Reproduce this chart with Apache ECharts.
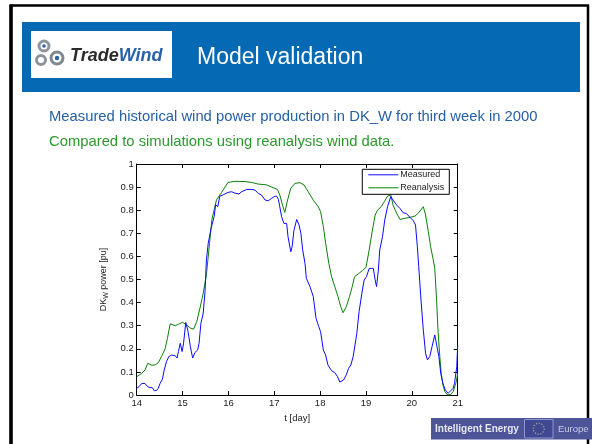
<!DOCTYPE html>
<html>
<head>
<meta charset="utf-8">
<script src="https://cdn.jsdelivr.net/npm/echarts@6/dist/echarts.min.js"></script>
<style>
  html, body { margin: 0; padding: 0; background: #fff; }
  #chart { width: 592px; height: 444px; }
</style>
</head>
<body>
<div id="chart"></div>
<script>
// Week 3 of 2000, western Denmark (DK_W): measured wind power vs. reanalysis-based simulation
const seriesNames = ['Measured', 'Reanalysis'];

const measuredT = [14.00, 14.05, 14.11, 14.18, 14.24, 14.29, 14.34, 14.38, 14.43, 14.47,
  14.51, 14.56, 14.60, 14.65, 14.70, 14.76, 14.84, 14.88, 14.91, 14.95,
  14.99, 15.02, 15.07, 15.12, 15.17, 15.22, 15.27, 15.33, 15.36, 15.40,
  15.45, 15.49, 15.52, 15.56, 15.62, 15.66, 15.69, 15.72, 15.77, 15.81,
  15.89, 15.99, 16.07, 16.14, 16.17, 16.23, 16.28, 16.40, 16.51, 16.58,
  16.65, 16.72, 16.80, 16.87, 16.94, 17.00, 17.05, 17.09, 17.12, 17.16,
  17.21, 17.27, 17.30, 17.36, 17.39, 17.43, 17.49, 17.54, 17.58, 17.62,
  17.67, 17.70, 17.78, 17.85, 17.91, 17.97, 18.01, 18.07, 18.12, 18.17,
  18.25, 18.32, 18.38, 18.43, 18.46, 18.51, 18.57, 18.62, 18.67, 18.72,
  18.80, 18.85, 18.91, 18.96, 19.01, 19.07, 19.11, 19.16, 19.20, 19.23,
  19.27, 19.30, 19.36, 19.41, 19.47, 19.54, 19.59, 19.67, 19.74, 19.81,
  19.88, 19.96, 20.03, 20.08, 20.12, 20.15, 20.20, 20.25, 20.30, 20.34,
  20.39, 20.44, 20.50, 20.54, 20.59, 20.63, 20.68, 20.73, 20.79, 20.85,
  20.90, 20.93, 20.98, 21.00];
const measuredP = [0.029, 0.036, 0.050, 0.050, 0.036, 0.032, 0.032, 0.019, 0.019, 0.029,
  0.050, 0.068, 0.108, 0.145, 0.166, 0.173, 0.170, 0.160, 0.188, 0.224,
  0.188, 0.221, 0.314, 0.275, 0.210, 0.160, 0.184, 0.195, 0.224, 0.310,
  0.354, 0.448, 0.585, 0.657, 0.720, 0.720, 0.773, 0.823, 0.816, 0.860,
  0.867, 0.877, 0.880, 0.874, 0.880, 0.870, 0.879, 0.890, 0.890, 0.887,
  0.873, 0.866, 0.844, 0.841, 0.851, 0.859, 0.861, 0.847, 0.815, 0.772,
  0.743, 0.743, 0.685, 0.620, 0.642, 0.714, 0.760, 0.736, 0.700, 0.628,
  0.570, 0.505, 0.469, 0.426, 0.332, 0.296, 0.274, 0.195, 0.173, 0.130,
  0.105, 0.097, 0.079, 0.056, 0.053, 0.065, 0.087, 0.115, 0.130, 0.166,
  0.267, 0.361, 0.440, 0.498, 0.512, 0.548, 0.553, 0.548, 0.498, 0.469,
  0.541, 0.628, 0.685, 0.758, 0.815, 0.859, 0.844, 0.822, 0.808, 0.789,
  0.786, 0.769, 0.755, 0.736, 0.642, 0.556, 0.411, 0.281, 0.180, 0.152,
  0.166, 0.209, 0.260, 0.253, 0.166, 0.094, 0.048, 0.022, 0.007, 0.019,
  0.029, 0.050, 0.123, 0.215];

const reanalysisT = [14.00, 14.11, 14.18, 14.24, 14.33, 14.40, 14.47, 14.54, 14.62, 14.67,
  14.73, 14.84, 14.91, 15.00, 15.09, 15.17, 15.24, 15.31, 15.38, 15.45,
  15.52, 15.59, 15.64, 15.74, 15.85, 15.99, 16.14, 16.36, 16.51, 16.65,
  16.83, 16.94, 17.01, 17.07, 17.12, 17.18, 17.23, 17.29, 17.36, 17.45,
  17.56, 17.65, 17.74, 17.85, 17.96, 18.01, 18.07, 18.12, 18.19, 18.25,
  18.32, 18.39, 18.45, 18.50, 18.57, 18.64, 18.70, 18.75, 18.83, 18.92,
  19.00, 19.07, 19.14, 19.20, 19.25, 19.33, 19.40, 19.47, 19.54, 19.59,
  19.67, 19.74, 19.85, 19.96, 20.07, 20.15, 20.25, 20.30, 20.36, 20.41,
  20.46, 20.50, 20.54, 20.57, 20.61, 20.64, 20.68, 20.72, 20.78, 20.85,
  20.90, 20.97, 21.00];
const reanalysisP = [0.079, 0.094, 0.108, 0.137, 0.129, 0.130, 0.140, 0.166, 0.200, 0.245,
  0.308, 0.300, 0.306, 0.315, 0.303, 0.290, 0.285, 0.318, 0.376, 0.440,
  0.520, 0.660, 0.760, 0.845, 0.877, 0.920, 0.925, 0.924, 0.920, 0.913,
  0.910, 0.900, 0.895, 0.890, 0.866, 0.822, 0.790, 0.844, 0.895, 0.916,
  0.919, 0.909, 0.880, 0.844, 0.815, 0.794, 0.729, 0.657, 0.570, 0.512,
  0.469, 0.426, 0.382, 0.356, 0.382, 0.426, 0.469, 0.512, 0.524, 0.538,
  0.553, 0.628, 0.714, 0.779, 0.800, 0.815, 0.837, 0.861, 0.866, 0.822,
  0.786, 0.760, 0.765, 0.769, 0.775, 0.789, 0.815, 0.779, 0.707, 0.642,
  0.592, 0.548, 0.411, 0.281, 0.166, 0.094, 0.043, 0.014, 0.000, 0.003,
  0.014, 0.058, 0.094];

const dayRange = [14, 21];
const powerRange = [0, 1];

const FONT = '"Liberation Sans", Arial, Helvetica, sans-serif';
const pairs = (t, p) => t.map((x, i) => [x, p[i]]);

const axisLine = { show: true, onZero: false, lineStyle: { color: '#000', width: 1 } };
const axisTick = { show: true, inside: true, length: 4, lineStyle: { color: '#000', width: 1 } };
const tickLabel = { fontSize: 9.5, color: '#222', fontFamily: FONT };

const chart = echarts.init(document.getElementById('chart'), null, { renderer: 'canvas' });

chart.setOption({
  backgroundColor: '#fff',
  animation: false,
  grid: { left: 136.7, right: 134.3, top: 164, bottom: 49, containLabel: false },
  xAxis: [
    {
      type: 'value', min: dayRange[0], max: dayRange[1], interval: 1, position: 'bottom',
      axisLine, axisTick, splitLine: { show: false },
      axisLabel: Object.assign({ margin: 3 }, tickLabel),
      name: 't [day]', nameLocation: 'middle', nameGap: 14,
      nameTextStyle: { fontSize: 9.5, color: '#222', fontFamily: FONT }
    },
    {
      type: 'value', min: dayRange[0], max: dayRange[1], interval: 1, position: 'top',
      axisLine, axisTick, splitLine: { show: false }, axisLabel: { show: false }
    }
  ],
  yAxis: [
    {
      type: 'value', min: powerRange[0], max: powerRange[1], interval: 0.1, position: 'left',
      axisLine, axisTick, splitLine: { show: false },
      axisLabel: Object.assign({ margin: 3 }, tickLabel),
      name: '{m|DK}{s|W}{m| power [pu]}', nameLocation: 'middle', nameRotate: 90, nameGap: 21,
      nameTextStyle: {
        color: '#222', fontFamily: FONT,
        rich: {
          m: { fontSize: 9, color: '#222', fontFamily: FONT },
          s: { fontSize: 7, color: '#222', fontFamily: FONT, verticalAlign: 'bottom', padding: [5, 0, 0, 0] }
        }
      }
    },
    {
      type: 'value', min: powerRange[0], max: powerRange[1], interval: 0.1, position: 'right',
      axisLine, axisTick, splitLine: { show: false }, axisLabel: { show: false }
    }
  ],
  legend: {
    data: seriesNames,
    orient: 'vertical',
    right: 142.7, top: 169.3,
    backgroundColor: '#fff', borderColor: '#000', borderWidth: 1, borderRadius: 0,
    padding: [1, 5, 2, 6], itemGap: 4, itemWidth: 30, itemHeight: 10,
    icon: 'path://M0,0H30V1H0Z',
    textStyle: { fontSize: 9, color: '#222', fontFamily: FONT, padding: [0, 0, 0, -3] }
  },
  series: [
    {
      name: seriesNames[0], type: 'line', xAxisIndex: 0, yAxisIndex: 0,
      data: pairs(measuredT, measuredP),
      symbol: 'none', smooth: false, color: '#0a0aff',
      lineStyle: { width: 1, color: '#0a0aff' }, z: 3
    },
    {
      name: seriesNames[1], type: 'line', xAxisIndex: 0, yAxisIndex: 0,
      data: pairs(reanalysisT, reanalysisP),
      symbol: 'none', smooth: false, color: '#0a7f0a',
      lineStyle: { width: 1, color: '#0a7f0a' }, z: 2
    }
  ],
  graphic: [
    // slide frame
    { type: 'rect', shape: { x: 11, y: 5.5, width: 577, height: 520 },
      style: { fill: 'none', stroke: '#000', lineWidth: 2.5 }, silent: true },
    { type: 'line', shape: { x1: 11, y1: 4.5, x2: 11, y2: 444 },
      style: { stroke: '#000', lineWidth: 3.5 }, silent: true },
    // title bar
    { type: 'rect', shape: { x: 22, y: 22, width: 558, height: 70 },
      style: { fill: '#0569b4' }, silent: true },
    { type: 'rect', shape: { x: 31, y: 31, width: 141, height: 47 },
      style: { fill: '#fff' }, silent: true },
    // TradeWind mark
    { type: 'circle', shape: { cx: 44, cy: 46, r: 5 },
      style: { fill: 'none', stroke: '#8d949c', lineWidth: 3 }, silent: true },
    { type: 'circle', shape: { cx: 41, cy: 60, r: 4.5 },
      style: { fill: 'none', stroke: '#8d949c', lineWidth: 3 }, silent: true },
    { type: 'circle', shape: { cx: 57, cy: 58, r: 6 },
      style: { fill: 'none', stroke: '#7f8891', lineWidth: 3 }, silent: true },
    { type: 'circle', shape: { cx: 57, cy: 58, r: 2.2 },
      style: { fill: '#2c63a8' }, silent: true },
    { type: 'circle', shape: { cx: 44, cy: 46, r: 1.8 },
      style: { fill: '#2c63a8' }, silent: true },
    { type: 'text', x: 70, y: 56,
      style: {
        text: '{a|Trade}{b|Wind}', verticalAlign: 'middle',
        rich: {
          a: { fontSize: 18, fontWeight: 'bold', fontStyle: 'italic', fill: '#2b2b2b', fontFamily: FONT },
          b: { fontSize: 18, fontWeight: 'bold', fontStyle: 'italic', fill: '#2a62aa', fontFamily: FONT }
        }
      }, silent: true },
    { type: 'text', x: 197, y: 58,
      style: { text: 'Model validation', fill: '#fff', fontSize: 23, fontFamily: FONT, verticalAlign: 'middle' },
      silent: true },
    // subtitle lines
    { type: 'text', x: 49, y: 117,
      style: { text: 'Measured historical wind power production in DK_W for third week in 2000',
        fill: '#2361a8', fontSize: 14.8, fontFamily: FONT, verticalAlign: 'middle' }, silent: true },
    { type: 'text', x: 49, y: 142,
      style: { text: 'Compared to simulations using reanalysis wind data.',
        fill: '#2b9a2b', fontSize: 14.8, fontFamily: FONT, verticalAlign: 'middle' }, silent: true },
    // programme badge
    { type: 'rect', shape: { x: 431, y: 418, width: 161, height: 21.5 },
      style: { fill: '#4d5497' }, silent: true },
    { type: 'text', x: 435, y: 429,
      style: { text: 'Intelligent Energy', fill: '#e6e7f2', fontSize: 10, fontWeight: 'bold',
        fontFamily: FONT, verticalAlign: 'middle' }, silent: true },
    { type: 'rect', shape: { x: 524.5, y: 419.5, width: 28.5, height: 18.5 },
      style: { fill: '#3f4891', stroke: '#8f96cc', lineWidth: 1 }, silent: true },
    { type: 'circle', shape: { cx: 538.7, cy: 428.7, r: 5.5 },
      style: { fill: 'none', stroke: '#a9a98a', lineWidth: 1.2, lineDash: [1.2, 1.6] }, silent: true },
    { type: 'text', x: 558, y: 429,
      style: { text: 'Europe', fill: '#c9cce6', fontSize: 9.5, fontFamily: FONT, verticalAlign: 'middle' },
      silent: true }
  ]
});
</script>
</body>
</html>
